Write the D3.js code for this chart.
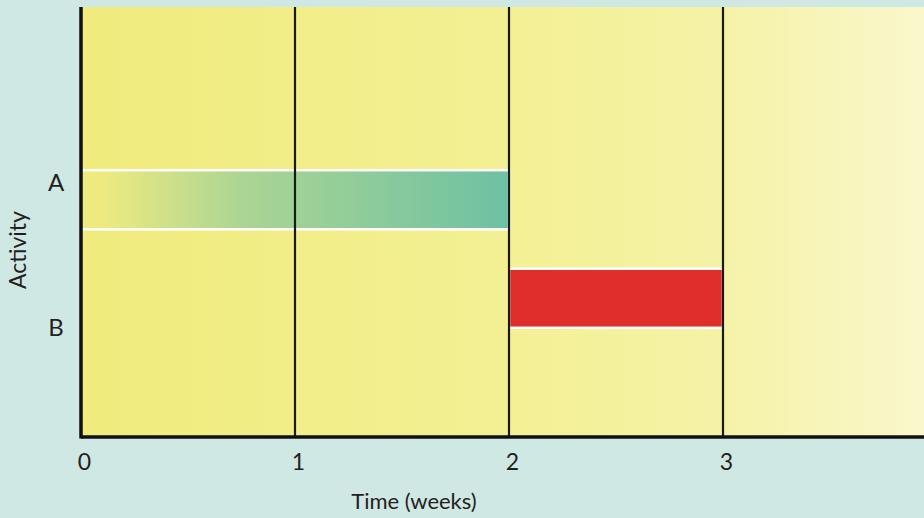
<!DOCTYPE html>
<html><head><meta charset="utf-8">
<script src="https://cdn.jsdelivr.net/npm/d3@7"></script>
<style>html,body{margin:0;padding:0;background:#d0e8e4;overflow:hidden}</style>
</head><body>
<script>
const activities = ["A", "B"];
const starts = [0, 2];
const ends = [2, 3];
const weekTicks = [0, 1, 2, 3];
const xTitle = "Time (weeks)";
const yTitle = "Activity";

const W = 924, H = 518;
const svg = d3.select("body").append("svg").attr("width", W).attr("height", H);
const defs = svg.append("defs");

const x = d3.scaleLinear().domain([0, 3]).range([81, 723]);
const y = d3.scaleBand().domain(activities).range([150.5, 347.5]).paddingInner(0.4).paddingOuter(0.2);
const yLab = d3.scalePoint().domain(activities).range([183, 328]);
const plotTop = 7, plotBottom = 437;

// background gradient
const bg = defs.append("linearGradient").attr("id", "bg").attr("x1", "0").attr("x2", "1");
bg.append("stop").attr("offset", "0").attr("stop-color", "#f0eb7c");
bg.append("stop").attr("offset", "0.5").attr("stop-color", "#f3f094");
bg.append("stop").attr("offset", "0.75").attr("stop-color", "#f5f2a6");
bg.append("stop").attr("offset", "1").attr("stop-color", "#faf7cc");

const ga = defs.append("linearGradient").attr("id", "ga").attr("x1", "0").attr("x2", "1");
ga.append("stop").attr("offset", "0").attr("stop-color", "#f0eb7c");
ga.append("stop").attr("offset", "0.05").attr("stop-color", "#eeea80");
ga.append("stop").attr("offset", "0.37").attr("stop-color", "#acd593");
ga.append("stop").attr("offset", "1").attr("stop-color", "#6dc1a3");

svg.append("rect").attr("x", x(0)).attr("y", plotTop).attr("width", W - x(0)).attr("height", plotBottom - plotTop)
  .attr("fill", "url(#bg)");

const fills = ["url(#ga)", "#e02f2a"];
const g = svg.append("g");
g.selectAll("rect.bar").data(activities).join("rect").attr("class", "bar")
  .attr("x", (d, i) => x(starts[i]))
  .attr("y", d => y(d))
  .attr("width", (d, i) => x(ends[i]) - x(starts[i]))
  .attr("height", y.bandwidth())
  .attr("fill", (d, i) => fills[i])
  .attr("stroke", "#ffffff").attr("stroke-width", 2.5);

// vertical week lines
svg.selectAll("line.wk").data(weekTicks.filter(d => d > 0)).join("line").attr("class", "wk")
  .attr("x1", d => x(d)).attr("x2", d => x(d)).attr("y1", plotTop).attr("y2", plotBottom)
  .attr("stroke", "#1a1a1a").attr("stroke-width", 2.2);

// axes
const xAxis = d3.axisBottom(x).tickValues(weekTicks).tickSize(0).tickPadding(0).tickFormat(d3.format("d"));
const xg = svg.append("g").attr("transform", `translate(0,${plotBottom})`).call(xAxis);
xg.select(".domain").remove();
xg.selectAll("text").attr("font-family", "Lato, sans-serif").attr("font-size", 23).attr("fill", "#231f20")
  .attr("dx", 3).attr("dy", 0).attr("y", 33);

svg.append("line").attr("x1", x(0)).attr("x2", W).attr("y1", plotBottom).attr("y2", plotBottom)
  .attr("stroke", "#111").attr("stroke-width", 3.5);
svg.append("line").attr("x1", x(0)).attr("x2", x(0)).attr("y1", plotTop).attr("y2", plotBottom + 1.5)
  .attr("stroke", "#111").attr("stroke-width", 3.5);

svg.selectAll("text.ylab").data(activities).join("text").attr("class", "ylab")
  .attr("x", 56).attr("y", d => yLab(d)).attr("dy", "0.35em").attr("text-anchor", "middle")
  .attr("font-family", "Lato, sans-serif").attr("font-size", 24).attr("fill", "#231f20").text(d => d);

svg.append("text").attr("x", 414).attr("y", 509).attr("text-anchor", "middle")
  .attr("font-family", "Lato, sans-serif").attr("font-size", 22).attr("fill", "#231f20").text(xTitle);

svg.append("text").attr("transform", "translate(26,250) rotate(-90)").attr("text-anchor", "middle")
  .attr("font-family", "Lato, sans-serif").attr("font-size", 23).attr("fill", "#231f20").text(yTitle);
</script>
</body></html>
